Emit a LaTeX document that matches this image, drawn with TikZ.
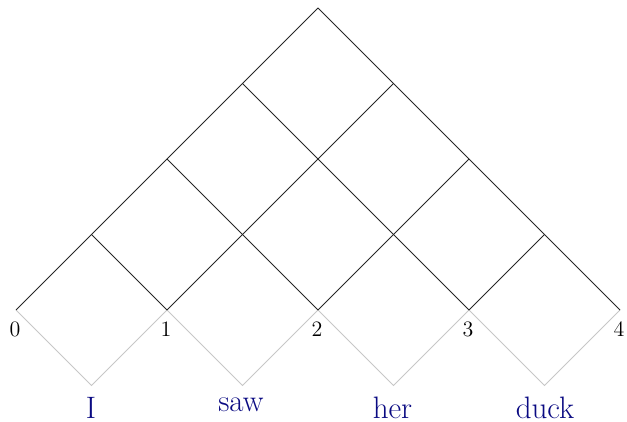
\documentclass[tikz,border=0pt]{standalone}
\begin{document}
\begin{tikzpicture}[x=0.5pt,y=-0.5pt,
  gridline/.style={draw=black!85,line width=0.5pt},
  wordline/.style={draw=black!22,line width=0.5pt},
  numlabel/.style={font=\fontsize{11}{13}\selectfont,inner sep=0pt},
  wordlabel/.style={font=\fontsize{15.5}{18}\selectfont,text={rgb,255:red,10;green,10;blue,130},inner sep=0pt,anchor=base}]
\useasboundingbox (0,0) rectangle (627,422);
% chart points
\foreach \i in {0,...,4}{
  \foreach \j in {\i,...,4}{
    \coordinate (g\i\j) at ({16+151*(\i+\j)/2},{310-151*(\j-\i)/2});
  }
}
% word diamonds bottoms
\foreach \i in {0,...,3}{
  \coordinate (w\i) at ({91.5+151*\i},385.5);
}
% gray zigzag
\draw[wordline] (g00) -- (w0) -- (g11) -- (w1) -- (g22) -- (w2) -- (g33) -- (w3) -- (g44);
% black grid
\foreach \i in {0,...,3}{
  \draw[gridline] (g\i\i) -- (g\i4);
}
\foreach \j in {1,...,4}{
  \draw[gridline] (g\j\j) -- (g0\j);
}
% numbers
\foreach \i in {0,...,4}{
  \node[numlabel] (n\i) at ({15+151*\i},329) {\i};
}
% words
\node[wordlabel] (wI) at (91,418) {I};
\node[wordlabel] (wsaw) at (241,411.5) {saw};
\node[wordlabel] (wher) at (392.5,418.5) {her};
\node[wordlabel] (wduck) at (545,418.5) {duck};
\end{tikzpicture}
\end{document}
